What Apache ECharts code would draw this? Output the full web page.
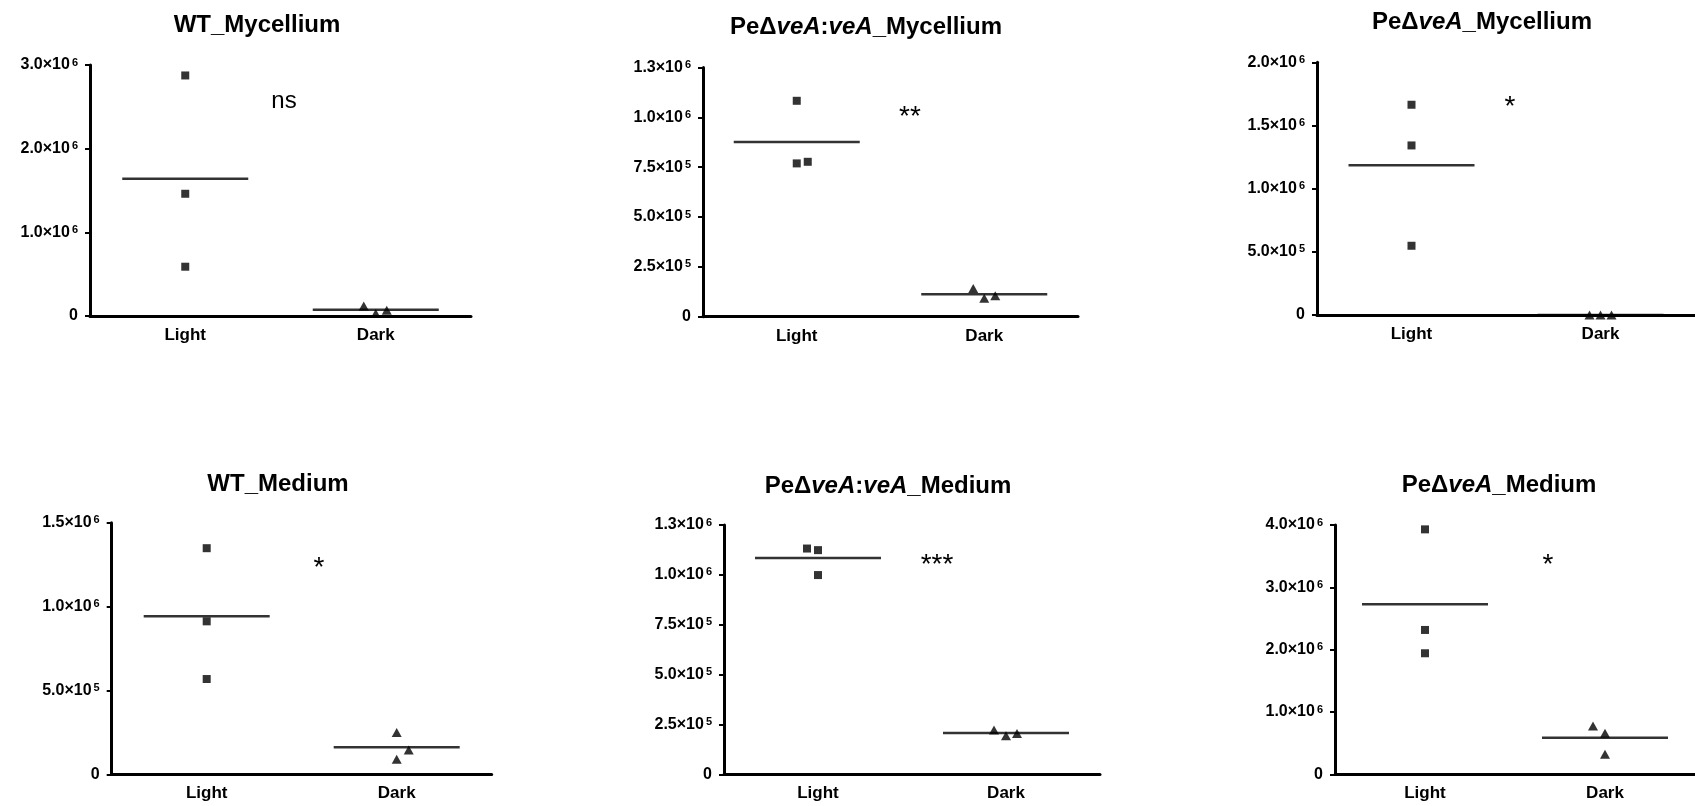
<!DOCTYPE html>
<html><head><meta charset="utf-8">
<script src="https://cdn.jsdelivr.net/npm/echarts@6/dist/echarts.min.js"></script>
<style>html,body{margin:0;padding:0;background:#fff}#c{width:1695px;height:806px}</style>
</head><body><div id="c"></div>
<script>
// ---------------- DATA ----------------
const categories = ['Light', 'Dark'];

const wtMycLight = [2.875e6, 1.461e6, 0.589e6];
const wtMycDark = [0.12e6, 0.03e6, 0.07e6];
const compMycLight = [1.083e6, 0.769e6, 0.777e6];
const compMycDark = [0.142e6, 0.092e6, 0.105e6];
const delMycLight = [1.664e6, 1.342e6, 0.548e6];
const delMycDark = [0.0005e6, 0.0004e6, 0.0005e6];
const wtMedLight = [1.348e6, 0.912e6, 0.568e6];
const wtMedDark = [0.249e6, 0.090e6, 0.145e6];
const compMedLight = [1.132e6, 1.124e6, 0.999e6];
const compMedDark = [0.222e6, 0.193e6, 0.205e6];
const delMedLight = [3.93e6, 2.316e6, 1.942e6];
const delMedDark = [0.775e6, 0.658e6, 0.321e6];

const ticksA = ['0', '1.0×10^6', '2.0×10^6', '3.0×10^6'];
const ticksB = ['0', '2.5×10^5', '5.0×10^5', '7.5×10^5', '1.0×10^6', '1.3×10^6'];
const ticksC = ['0', '5.0×10^5', '1.0×10^6', '1.5×10^6', '2.0×10^6'];
const ticksD = ['0', '5.0×10^5', '1.0×10^6', '1.5×10^6'];
const ticksE = ['0', '1.0×10^6', '2.0×10^6', '3.0×10^6', '4.0×10^6'];

const titles = [
  '{n|WT_Mycellium}',
  '{n|PeΔ}{i|veA}{n|:}{i|veA}{n|_Mycellium}',
  '{n|PeΔ}{i|veA}{n|_Mycellium}',
  '{n|WT_Medium}',
  '{n|PeΔ}{i|veA}{n|:}{i|veA}{n|_Medium}',
  '{n|PeΔ}{i|veA}{n|_Medium}'
];
const significance = ['ns', '**', '*', '*', '***', '*'];

// ---------------- LAYOUT / STYLE ----------------
const FONT = "'Liberation Sans', Arial, sans-serif";
const panels = [
  { light: wtMycLight, dark: wtMycDark, ticks: ticksA, interval: 1e6,
    grid: { left: 90, top: 65, width: 381, height: 251 },
    lightOff: [0, 0, 0], darkOff: [-12, 0, 11], title: [257, 25], sig: [284, 101] },
  { light: compMycLight, dark: compMycDark, ticks: ticksB, interval: 2.5e5,
    grid: { left: 703, top: 67.5, width: 375, height: 249.2 },
    lightOff: [0, 0, 11], darkOff: [-11, 0, 11], title: [866, 27], sig: [910, 112] },
  { light: delMycLight, dark: delMycDark, ticks: ticksC, interval: 5e5,
    grid: { left: 1317, top: 62.3, width: 380, height: 252.7 },
    lightOff: [0, 0, 0], darkOff: [-11, 0, 11], title: [1482, 22], sig: [1510, 102] },
  { light: wtMedLight, dark: wtMedDark, ticks: ticksD, interval: 5e5,
    grid: { left: 111.7, top: 522.7, width: 380, height: 251.6 },
    lightOff: [0, 0, 0], darkOff: [0, 0, 12], title: [278, 484], sig: [319, 563] },
  { light: compMedLight, dark: compMedDark, ticks: ticksB, interval: 2.5e5,
    grid: { left: 724, top: 525, width: 376, height: 249.3 },
    lightOff: [-11, 0, 0], darkOff: [-12, 0, 11], title: [888, 486], sig: [937, 560] },
  { light: delMedLight, dark: delMedDark, ticks: ticksE, interval: 1e6,
    grid: { left: 1335, top: 525, width: 377, height: 249.3 },
    lightOff: [0, 0, 0], darkOff: [-12, 0, 0], title: [1499, 485], sig: [1548, 560] }
];

const mean = a => a.reduce((s, v) => s + v, 0) / a.length;

function tickFormatter(ticks, interval) {
  return function (v) {
    const s = ticks[Math.round(v / interval)];
    if (s === undefined) return '';
    if (s.indexOf('^') >= 0) {
      const p = s.split('^');
      return '{b|' + p[0] + '}{s|' + p[1] + '}';
    }
    return '{b|' + s + '}';
  };
}

const grids = [], xAxes = [], yAxes = [], series = [], graphics = [];
panels.forEach((p, i) => {
  grids.push(Object.assign({ containLabel: false }, p.grid));
  xAxes.push({
    type: 'category', gridIndex: i, data: categories, boundaryGap: true,
    axisLine: { lineStyle: { color: '#000', width: 3 } },
    axisTick: { alignWithLabel: true, length: 6, lineStyle: { color: '#000', width: 3 } },
    axisLabel: { color: '#000', fontFamily: FONT, fontWeight: 'bold', fontSize: 17, margin: 11 },
    splitLine: { show: false }
  });
  yAxes.push({
    type: 'value', gridIndex: i, min: 0, max: p.interval * (p.ticks.length - 1), interval: p.interval,
    axisLine: { show: true, lineStyle: { color: '#000', width: 3 } },
    axisTick: { show: true, length: 5, lineStyle: { color: '#000', width: 2 } },
    splitLine: { show: false },
    axisLabel: {
      margin: 12, formatter: tickFormatter(p.ticks, p.interval),
      rich: {
        b: { color: '#000', fontFamily: FONT, fontWeight: 'bold', fontSize: 16 },
        s: { color: '#000', fontFamily: FONT, fontWeight: 'bold', fontSize: 11, verticalAlign: 'top', padding: [0, 0, 0, 2] }
      }
    }
  });
  const mk = (vals, cat, offs) => vals.map((v, k) => ({
    value: [cat, v], symbolOffset: [offs[k], 0]
  }));
  series.push({
    type: 'scatter', xAxisIndex: i, yAxisIndex: i, symbol: 'rect', symbolSize: 8,
    itemStyle: { color: '#000' }, data: mk(p.light, 'Light', p.lightOff), z: 3
  });
  series.push({
    type: 'scatter', xAxisIndex: i, yAxisIndex: i, symbol: 'triangle', symbolSize: [10, 9],
    itemStyle: { color: '#000' }, data: mk(p.dark, 'Dark', p.darkOff), z: 3
  });
  series.push({
    type: 'scatter', xAxisIndex: i, yAxisIndex: i, symbol: 'rect', symbolSize: [126, 2.5],
    itemStyle: { color: '#000' }, z: 2,
    data: [['Light', mean(p.light)], ['Dark', mean(p.dark)]]
  });
  graphics.push({
    type: 'text', x: p.title[0], y: p.title[1],
    style: {
      text: titles[i], align: 'center', verticalAlign: 'middle',
      rich: {
        n: { fontFamily: FONT, fontWeight: 'bold', fontSize: 24, fill: '#000' },
        i: { fontFamily: FONT, fontWeight: 'bold', fontStyle: 'italic', fontSize: 24, fill: '#000' }
      }
    }
  });
  const isNs = significance[i] === 'ns';
  graphics.push({
    type: 'text', x: p.sig[0], y: p.sig[1] + (isNs ? 0 : 5),
    style: {
      text: significance[i], align: 'center', verticalAlign: 'middle',
      fontFamily: FONT, fontSize: isNs ? 24 : 28, fill: '#000'
    }
  });
});

const chart = echarts.init(document.getElementById('c'));
chart.setOption({
  backgroundColor: '#fff', animation: false,
  grid: grids, xAxis: xAxes, yAxis: yAxes, series: series, graphic: graphics
});
</script></body></html>
